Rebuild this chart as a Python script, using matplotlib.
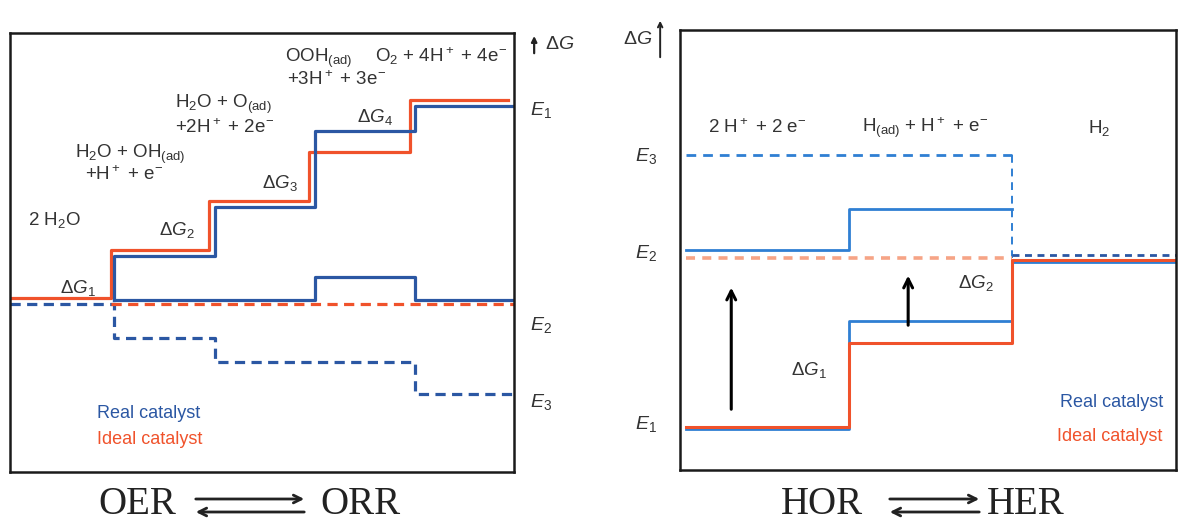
import matplotlib
matplotlib.use("Agg")
import matplotlib.pyplot as plt
from matplotlib.patches import FancyArrowPatch

plt.rcParams["font.family"] = ["Liberation Sans", "DejaVu Sans"]
plt.rcParams["mathtext.fontset"] = "custom"
plt.rcParams["mathtext.rm"] = "Liberation Sans"
plt.rcParams["mathtext.it"] = "Liberation Sans:italic"
plt.rcParams["mathtext.default"] = "rm"

BLUE = "#2b57a3"
BLUE_R = "#2f7fd3"
RED = "#f0522b"
RED_LIGHT = "#f6a486"
TXT = "#333333"

# ---- OER / ORR (left) : free energy of each state ----
oer_ideal_x = [0.02, 1.0, 1.97, 2.97, 3.97, 4.94]
oer_ideal_g = [0.0, 1.2, 2.43, 3.65, 4.95, 4.95]
oer_real_x = [1.03, 1.03, 2.03, 3.03, 4.02, 5.0]
oer_real_g = [-0.05, 1.05, 2.28, 4.18, 4.8, 4.8]
orr_real_x = [1.03, 3.03, 4.02, 5.0]
orr_real_g = [-0.05, 0.53, -0.05, -0.05]
orr_real_dash_x = [0.0, 1.03, 2.03, 4.02, 5.0]
orr_real_dash_g = [-0.15, -1.0, -1.6, -2.4, -2.4]
orr_ideal_dash_x = [1.0, 5.0]
orr_ideal_dash_g = [-0.15, -0.15]

oer_states = [
    (0.18, 1.95, "2 H$_2$O"),
    (0.64, 3.6, "H$_2$O + OH$_{(ad)}$"),
    (0.74, 3.08, "+H$^+$ + e$^{-}$"),
    (1.64, 4.85, "H$_2$O + O$_{(ad)}$"),
    (1.64, 4.25, "+2H$^+$ + 2e$^{-}$"),
    (2.73, 6.0, "OOH$_{(ad)}$"),
    (2.75, 5.45, "+3H$^+$ + 3e$^{-}$"),
    (3.62, 6.05, "O$_2$ + 4H$^+$ + 4e$^{-}$"),
]
oer_dg = [(0.5, 0.25, 1), (1.48, 1.7, 2), (2.5, 2.88, 3), (3.44, 4.53, 4)]
oer_levels = [(4.7, 1), (-0.68, 2), (-2.6, 3)]

# ---- HOR / HER (right) ----
her_x = [0.036, 1.02, 2.01, 3.0]
her_ideal_g = [0.03, 2.12, 4.2, 4.2]
her_real_g = [-0.03, 2.68, 4.15, 4.15]
her_upper_g = [4.45, 5.48, 5.48]
her_e3 = 6.83
her_e2 = 4.25
her_e2_right = 4.33
her_arrows = [(0.31, 0.4, 3.58), (1.38, 2.5, 3.88)]
her_states = [(0.17, 7.5, "2 H$^+$ + 2 e$^{-}$"),
              (1.10, 7.5, "H$_{(ad)}$ + H$^+$ + e$^{-}$"),
              (2.47, 7.5, "H$_2$")]
her_dg = [(0.67, 1.45, 1), (1.68, 3.63, 2)]
her_levels = [(6.8, 3), (4.38, 2), (0.1, 1)]

fig = plt.figure(figsize=(11.78, 5.22), dpi=100)
W, H = 1178.0, 522.0
ax1 = fig.add_axes([10 / W, (H - 472) / H, 504 / W, 439 / H])
ax2 = fig.add_axes([680 / W, (H - 470) / H, 496 / W, 440 / H])

for ax in (ax1, ax2):
    ax.set_xticks([])
    ax.set_yticks([])
    for s in ax.spines.values():
        s.set_linewidth(1.8)
        s.set_color("#1a1a1a")

# left panel
ax1.set_xlim(0, 5)
ax1.set_ylim(-4.35, 6.625)
lw = 2.3
dash = (0, (3.2, 2.0))
ax1.step(orr_real_dash_x, orr_real_dash_g, where="post", color=BLUE, lw=lw, ls=dash)
ax1.plot(orr_ideal_dash_x, orr_ideal_dash_g, color=RED, lw=lw, ls=dash)
ax1.step(oer_ideal_x, oer_ideal_g, where="post", color=RED, lw=lw)
ax1.step(orr_real_x, orr_real_g, where="post", color=BLUE, lw=lw)
ax1.step(oer_real_x, oer_real_g, where="post", color=BLUE, lw=lw)

for x, y, s in oer_states:
    ax1.text(x, y, s, fontsize=13.5, color=TXT, va="center", ha="left")
for x, y, i in oer_dg:
    ax1.text(x, y, r"$\Delta\mathit{G}_%d$" % i, fontsize=13.5, color=TXT, va="center", ha="left")
for y, i in oer_levels:
    ax1.text(5.16, y, r"$\mathit{E}_%d$" % i, fontsize=14, color=TXT, va="center", ha="left",
             clip_on=False)
ax1.text(0.86, -2.88, "Real catalyst", fontsize=13, color=BLUE, va="center")
ax1.text(0.86, -3.55, "Ideal catalyst", fontsize=13, color=RED, va="center")
ax1.text(5.31, 6.33, r"$\Delta\mathit{G}$", fontsize=14, color=TXT, va="center", ha="left",
         clip_on=False)
ax1.annotate("", xy=(5.2, 6.62), xytext=(5.2, 6.05), annotation_clip=False,
             arrowprops=dict(arrowstyle="-|>", color="#222222", lw=1.6, mutation_scale=8))

# right panel
ax2.set_xlim(0, 3)
ax2.set_ylim(-1.05, 9.95)
ax2.plot([her_x[0], her_x[2]], [her_e3, her_e3], color=BLUE_R, lw=2.0, ls=(0, (3.5, 2.5)))
ax2.plot([her_x[2], her_x[2]], [her_e3, her_e2], color=BLUE_R, lw=1.4, ls=(0, (4, 3)))
ax2.plot([her_x[0], her_x[2]], [her_e2, her_e2], color=RED_LIGHT, lw=2.6, ls=(0, (2.5, 2.0)))
ax2.step(her_x[:3], her_upper_g, where="post", color=BLUE_R, lw=2.0)
ax2.step(her_x, her_real_g, where="post", color=BLUE_R, lw=2.0)
ax2.step(her_x, her_ideal_g, where="post", color=RED, lw=2.2)
ax2.plot([her_x[2], her_x[3]], [her_e2_right, her_e2_right], color=BLUE, lw=2.0,
         ls=(0, (2.5, 2.0)))

for x, y0, y1 in her_arrows:
    ax2.annotate("", xy=(x, y1), xytext=(x, y0),
                 arrowprops=dict(arrowstyle="->", color="black", lw=2.2, mutation_scale=16))
for x, y, s in her_states:
    ax2.text(x, y, s, fontsize=13.5, color=TXT, va="center", ha="left")
for x, y, i in her_dg:
    ax2.text(x, y, r"$\Delta\mathit{G}_%d$" % i, fontsize=13.5, color=TXT, va="center", ha="left")
for y, i in her_levels:
    ax2.text(-0.14, y, r"$\mathit{E}_%d$" % i, fontsize=14, color=TXT, va="center", ha="right",
             clip_on=False)
ax2.text(2.92, 0.63, "Real catalyst", fontsize=13, color=BLUE, va="center", ha="right")
ax2.text(2.92, -0.22, "Ideal catalyst", fontsize=13, color=RED, va="center", ha="right")
ax2.text(-0.17, 9.7, r"$\Delta\mathit{G}$", fontsize=14, color=TXT, va="center", ha="right",
         clip_on=False)
ax2.annotate("", xy=(-0.12, 10.25), xytext=(-0.12, 9.2), annotation_clip=False,
             arrowprops=dict(arrowstyle="->", color="#222222", lw=1.4, mutation_scale=8))


# reaction titles with double arrows
def reaction(left, right, x_left, x0, x1, x_right):
    for xc, s in ((x_left, left), (x_right, right)):
        fig.text(xc / W, 1 - 504 / H, s, fontsize=28, family="Liberation Serif",
                 ha="center", va="center", color="#222222")
    fig.add_artist(FancyArrowPatch(
        (x0 / W, 1 - 499 / H), (x1 / W, 1 - 499 / H), transform=fig.transFigure,
        arrowstyle="->", mutation_scale=14, lw=2.0, color="#222222"))
    fig.add_artist(FancyArrowPatch(
        (x1 / W, 1 - 512 / H), (x0 / W, 1 - 512 / H), transform=fig.transFigure,
        arrowstyle="->", mutation_scale=14, lw=2.0, color="#222222"))


reaction("OER", "ORR", 137, 193, 307, 360)
reaction("HOR", "HER", 822, 887, 982, 1026)

fig.savefig("out.png", dpi=100)
